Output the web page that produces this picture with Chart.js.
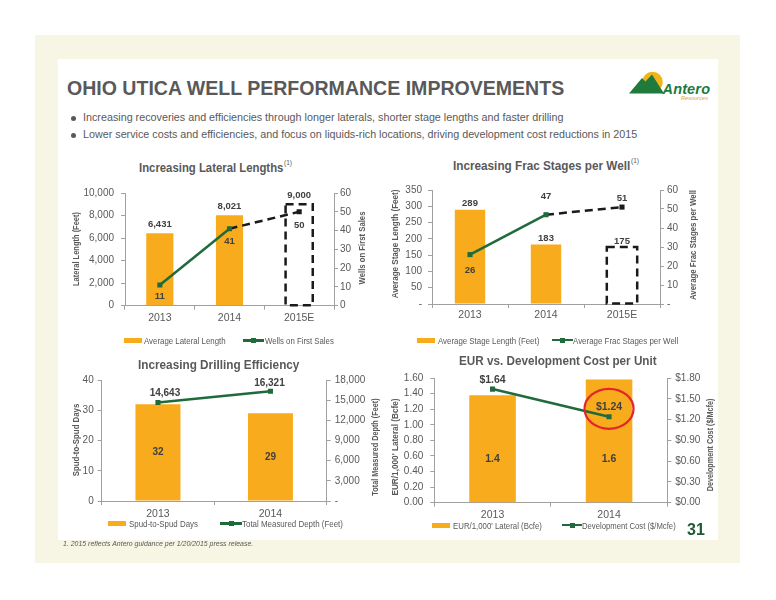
<!DOCTYPE html>
<html>
<head>
<meta charset="utf-8">
<script src="https://cdn.jsdelivr.net/npm/chart.js@4.4.1/dist/chart.umd.min.js"></script>
<style>
  body { margin: 0; background: #fff; font-family: "Liberation Sans", Arial, sans-serif; }
  #slide { position: relative; width: 776px; height: 600px; overflow: hidden; }
  .abs { position: absolute; white-space: nowrap; line-height: 1; }
  canvas { position: absolute; }
</style>
</head>
<body>
<div id="slide">
  <div style="position:absolute;left:35px;top:35px;width:705px;height:528px;background:#f7f5e3"></div>
  <div style="position:absolute;left:58px;top:59px;width:660px;height:481px;background:#fff"></div>
  <svg style="position:absolute;left:620px;top:60px" width="98" height="45" viewBox="620 60 98 45">
    <circle cx="652.5" cy="82" r="10.3" fill="#f3b41b"/>
    <polygon points="629,93.5 642,78 645.5,81.5 652,74.5 664,93.5" fill="#1f7a3c"/>
    <text x="662.5" y="93.8" font-family="Liberation Sans, Arial" font-style="italic" font-weight="bold" font-size="14.5" fill="#1f7a3c" textLength="47.5">Antero</text>
    <text x="681" y="99.5" font-family="Liberation Sans, Arial" font-style="italic" font-size="5.5" fill="#e0a21a" textLength="27">Resources</text>
  </svg>
  <canvas id="c1"></canvas>
  <canvas id="c2"></canvas>
  <canvas id="c3"></canvas>
  <canvas id="c4"></canvas>
</div>
<script>
// ---- data ----
const lateralYears = ['2013', '2014', '2015E'];
const lateralLength = [6431, 8021, 9000];
const wellsFirstSales = [11, 41, 50];

const fracYears = ['2013', '2014', '2015E'];
const stageLength = [289, 183, 175];
const fracStages = [26, 47, 51];

const drillYears = ['2013', '2014'];
const spudDays = [32, 29];
const measuredDepth = [14643, 16321];

const eurYears = ['2013', '2014'];
const eurPerLateral = [1.38, 1.58];
const devCost = [1.64, 1.24];

const ORANGE = '#f8ab1c';
const GREEN = '#1f6b3c';
const DASH = '#1a1a1a';
const AXIS = '#a0a0a0';
const TXT = '#595959';
const LBL = '#404040';
const FONT = '"Liberation Sans", Arial, sans-serif';

const slide = document.getElementById('slide');

// text as html, squeezed to the width it has on the slide
function place(text, o) {
  const el = document.createElement('div');
  el.className = 'abs';
  el.textContent = text;
  el.style.font = `${o.italic ? 'italic ' : ''}${o.bold ? 'bold ' : ''}${o.size}px ${FONT}`;
  el.style.color = o.color || TXT;
  slide.appendChild(el);
  const w = el.offsetWidth, h = el.offsetHeight;
  const s = o.width ? o.width / w : 1;
  if (o.rot) {
    el.style.left = (o.cx - w / 2) + 'px';
    el.style.top = (o.cy - h / 2) + 'px';
    el.style.transform = `rotate(-90deg) scaleX(${s})`;
  } else {
    el.style.left = o.x + 'px';
    el.style.top = (o.cy - h * 0.49) + 'px';
    el.style.transformOrigin = '0 50%';
    el.style.transform = `scaleX(${s})`;
  }
  return el;
}

function box(l, t, w, h, css) {
  const el = document.createElement('div');
  el.style.cssText = `position:absolute;left:${l}px;top:${t}px;width:${w}px;height:${h}px;` + css;
  slide.appendChild(el);
}

function legend(y, barX, barText, barTextX, barTextW, lineX, lineW, lineText, lineTextX, lineTextW) {
  box(barX, y - 2.5, 18, 5, 'background:' + ORANGE);
  place(barText, { x: barTextX, cy: y, size: 9.5, width: barTextW });
  box(lineX, y - 1.25, lineW, 2.5, 'background:' + GREEN);
  box(lineX + lineW / 2 - 2.5, y - 2.5, 5, 5, 'background:' + GREEN);
  place(lineText, { x: lineTextX, cy: y, size: 9.5, width: lineTextW });
}

// header
place('OHIO UTICA WELL PERFORMANCE IMPROVEMENTS', { x: 67, cy: 88.5, size: 19.5, bold: true, width: 497 });
box(71, 115.5, 5, 5, 'background:#595959;border-radius:50%');
box(71, 132.5, 5, 5, 'background:#595959;border-radius:50%');
place('Increasing recoveries and efficiencies through longer laterals, shorter stage lengths and faster drilling',
  { x: 83, cy: 117, size: 11, width: 480 });
place('Lower service costs and efficiencies, and focus on liquids-rich locations, driving development cost reductions in 2015',
  { x: 83, cy: 134, size: 11, width: 554 });

// chart titles
place('Increasing Lateral Lengths', { x: 139, cy: 167.5, size: 13, bold: true, width: 144 });
place('(1)', { x: 284, cy: 162, size: 6.5 });
place('Increasing Frac Stages per Well', { x: 453, cy: 165.5, size: 13, bold: true, width: 177 });
place('(1)', { x: 631, cy: 160.5, size: 6.5 });
place('Increasing Drilling Efficiency', { x: 138, cy: 364.5, size: 13, bold: true, width: 161 });
place('EUR vs. Development Cost per Unit', { x: 459, cy: 360.5, size: 13, bold: true, width: 198 });

// axis titles
place('Lateral Length (Feet)', { rot: true, cx: 75, cy: 249, size: 9, bold: true, width: 74 });
place('Wells on First Sales', { rot: true, cx: 362, cy: 248, size: 9, bold: true, width: 73 });
place('Average Stage Length (Feet)', { rot: true, cx: 395, cy: 244, size: 9, bold: true, width: 109 });
place('Average Frac Stages per Well', { rot: true, cx: 693, cy: 245, size: 9, bold: true, width: 110 });
place('Spud-to-Spud Days', { rot: true, cx: 76, cy: 440, size: 9, bold: true, width: 73 });
place('Total Measured Depth (Feet)', { rot: true, cx: 375, cy: 447, size: 9, bold: true, width: 97 });
place("EUR/1,000' Lateral (Bcfe)", { rot: true, cx: 395, cy: 447, size: 9, bold: true, width: 97 });
place('Development Cost ($/Mcfe)', { rot: true, cx: 710, cy: 445, size: 9, bold: true, width: 93 });

// legends
legend(340.5, 124, 'Average Lateral Length', 144, 82, 243, 21, 'Wells on First Sales', 265, 69);
legend(340, 417, 'Average Stage Length (Feet)', 438, 101, 552, 21, 'Average Frac Stages per Well', 573, 105);
legend(523.5, 108, 'Spud-to-Spud Days', 129, 69, 220, 22, 'Total Measured Depth (Feet)', 242, 101);
legend(525, 432, "EUR/1,000' Lateral (Bcfe)", 453, 89, 562, 20, 'Development Cost ($/Mcfe)', 582, 94);

place('31', { x: 687, cy: 530, size: 16, bold: true, color: '#1e5b34' });
place('1.  2015 reflects Antero guidance per 1/20/2015 press release.', { x: 63, cy: 543.5, size: 7.5, italic: true, width: 190 });

// ---- charts ----
function yAxis(pos, max, step, fmt, width, pad) {
  return {
    position: pos, min: 0, max: max,
    grid: { display: true, drawOnChartArea: false, drawTicks: true, tickLength: 4, color: AXIS },
    border: { display: true, color: AXIS, width: 1 },
    ticks: { stepSize: step, color: TXT, font: { family: FONT, size: 10 }, padding: pad, callback: fmt },
    afterFit: s => { s.width = width; }
  };
}

function comboChart(id, bx, area, o) {
  const cv = document.getElementById(id);
  const w = bx.r - bx.l, h = bx.b - bx.t;
  cv.width = w; cv.height = h;
  cv.style.left = bx.l + 'px'; cv.style.top = bx.t + 'px';
  cv.style.width = w + 'px'; cv.style.height = h + 'px';

  const isDashed = c => o.dashed != null && c.p1DataIndex === o.dashed;
  const markerColors = o.line.map((v, i) => i === o.dashed ? DASH : GREEN);

  const labelPlugin = {
    id: 'valueLabels',
    beforeDatasetsDraw(chart) {
      if (o.dashed == null) return;
      const b = chart.getDatasetMeta(1).data[o.dashed];
      const ctx = chart.ctx;
      ctx.save();
      ctx.setLineDash([8, 5]);
      ctx.lineWidth = 2.5;
      ctx.strokeStyle = DASH;
      ctx.strokeRect(b.x - b.width / 2, b.y, b.width, b.base - b.y);
      ctx.restore();
    },
    afterDatasetsDraw(chart) {
      const ctx = chart.ctx;
      ctx.save();
      ctx.font = `bold ${o.labelSize}px ${FONT}`;
      ctx.fillStyle = LBL;
      ctx.textAlign = 'center';
      ctx.textBaseline = 'middle';
      chart.getDatasetMeta(1).data.forEach((b, i) => {
        let y;
        if (o.barPos === 'top') y = b.y - o.barOff;
        else if (o.barPos === 'center') y = (b.y + b.base) / 2;
        else y = b.base - o.barOff;
        ctx.fillText(o.barFmt(o.bars[i]), b.x, y);
      });
      const pts = chart.getDatasetMeta(0).data;
      pts.forEach((p, i) => {
        ctx.fillText(o.lineFmt(o.line[i]), p.x + (o.lineDx ? o.lineDx[i] : 0), p.y + o.lineDy[i]);
      });
      if (o.circle != null) {
        const p = pts[o.circle];
        ctx.beginPath();
        ctx.ellipse(p.x, p.y - 8, 24.5, 20, 0, 0, Math.PI * 2);
        ctx.strokeStyle = '#e3262b';
        ctx.lineWidth = 2.2;
        ctx.stroke();
      }
      ctx.restore();
    }
  };

  return new Chart(cv, {
    data: {
      labels: o.labels,
      datasets: [
        {
          type: 'line', data: o.line, yAxisID: 'y1', order: 0,
          borderColor: GREEN, borderWidth: 2.5, tension: 0,
          pointStyle: 'rect', pointRadius: 3.6,
          pointBackgroundColor: markerColors, pointBorderColor: markerColors, pointBorderWidth: 0,
          segment: {
            borderColor: c => isDashed(c) ? DASH : GREEN,
            borderDash: c => isDashed(c) ? [8, 5] : undefined
          }
        },
        {
          type: 'bar', data: o.bars, yAxisID: 'y', order: 1,
          backgroundColor: o.bars.map((v, i) => i === o.dashed ? 'rgba(0,0,0,0)' : ORANGE),
          borderWidth: 0, barPercentage: o.barPct, categoryPercentage: 1
        }
      ]
    },
    options: {
      responsive: false, maintainAspectRatio: false, animation: false,
      layout: { padding: { top: area.t - bx.t, left: 0, right: 0, bottom: 0 } },
      plugins: { legend: { display: false }, tooltip: { enabled: false } },
      scales: {
        x: {
          offset: true,
          grid: { display: true, offset: true, drawOnChartArea: false, tickLength: 4, color: AXIS },
          border: { display: true, color: AXIS, width: 1 },
          ticks: { color: TXT, font: { family: FONT, size: 10.5 }, padding: o.xPad },
          afterFit: s => { s.height = bx.b - area.b; }
        },
        y: yAxis('left', o.yMax, o.yStep, o.yFmt, area.l - bx.l, o.lPad),
        y1: yAxis('right', o.y1Max, o.y1Step, o.y1Fmt, bx.r - area.r, o.rPad)
      }
    },
    plugins: [labelPlugin]
  });
}

const comma = v => v.toLocaleString('en-US');
const dashZero = f => v => v === 0 ? '-' : f(v);

comboChart('c1', { l: 66, r: 372, t: 180, b: 330 }, { l: 125, r: 334, t: 189, b: 305.7 }, {
  labels: lateralYears, bars: lateralLength, line: wellsFirstSales, dashed: 2, barPct: 0.39,
  yMax: 10000, yStep: 2000, yFmt: comma, y1Max: 60, y1Step: 10, y1Fmt: v => v,
  lPad: 7, rPad: 2, xPad: 2,
  labelSize: 9.5, barPos: 'top', barOff: 9, barFmt: comma,
  lineFmt: v => v, lineDy: [11, 13, 13.5]
});

comboChart('c2', { l: 400, r: 690, t: 178, b: 330 }, { l: 432, r: 660, t: 187.3, b: 304 }, {
  labels: fracYears, bars: stageLength, line: fracStages, dashed: 2, barPct: 0.4,
  yMax: 350, yStep: 50, yFmt: dashZero(v => v), y1Max: 60, y1Step: 10, y1Fmt: dashZero(v => v),
  lPad: 6, rPad: 3, xPad: 1,
  labelSize: 9.5, barPos: 'top', barOff: 6, barFmt: v => v,
  lineFmt: v => v, lineDy: [16, -18, -9]
});

comboChart('c3', { l: 70, r: 370, t: 370, b: 525 }, { l: 101.7, r: 326.7, t: 379, b: 501 }, {
  labels: drillYears, bars: spudDays, line: measuredDepth, barPct: 0.4,
  yMax: 40, yStep: 10, yFmt: v => v, y1Max: 18000, y1Step: 3000, y1Fmt: dashZero(comma),
  lPad: 4, rPad: 4, xPad: 3,
  labelSize: 10, barPos: 'center', barFmt: v => v,
  lineFmt: comma, lineDy: [-9, -8], lineDx: [7, -1]
});

comboChart('c4', { l: 400, r: 705, t: 365, b: 525 }, { l: 434.3, r: 667.3, t: 374.3, b: 502.7 }, {
  labels: eurYears, bars: eurPerLateral, line: devCost, circle: 1, barPct: 0.4,
  yMax: 1.6, yStep: 0.2, yFmt: v => v.toFixed(2), y1Max: 1.8, y1Step: 0.3, y1Fmt: v => '$' + v.toFixed(2),
  lPad: 7, rPad: 4, xPad: 2,
  labelSize: 10.5, barPos: 'base', barOff: 43, barFmt: v => v.toFixed(1),
  lineFmt: v => '$' + v.toFixed(2), lineDy: [-9, -10]
});
</script>
</body>
</html>
